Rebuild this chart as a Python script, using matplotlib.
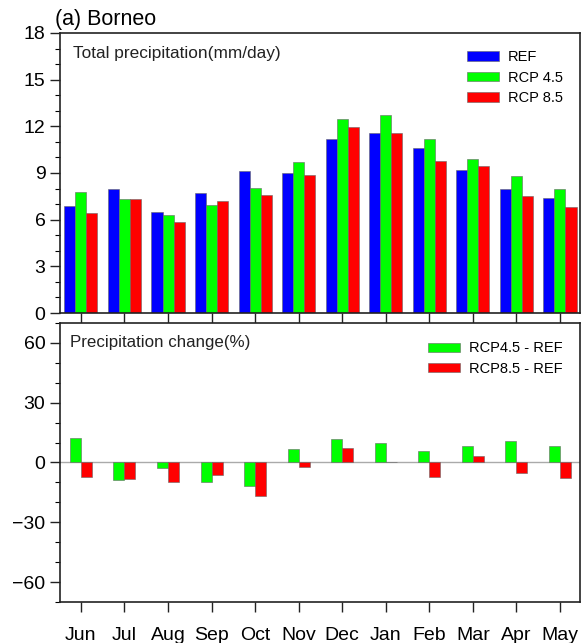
import matplotlib.pyplot as plt
import numpy as np

plt.rcParams['font.family'] = ['Liberation Sans', 'DejaVu Sans']

months = ["Jun", "Jul", "Aug", "Sep", "Oct", "Nov", "Dec", "Jan", "Feb", "Mar", "Apr", "May"]

# total precipitation (mm/day)
ref = [6.9, 8.0, 6.5, 7.7, 9.1, 9.0, 11.2, 11.6, 10.6, 9.2, 7.95, 7.4]
rcp45 = [7.75, 7.3, 6.3, 6.95, 8.05, 9.7, 12.45, 12.7, 11.2, 9.9, 8.8, 7.95]
rcp85 = [6.4, 7.3, 5.85, 7.2, 7.6, 8.85, 11.95, 11.6, 9.8, 9.45, 7.5, 6.8]

# precipitation change relative to REF (%)
chg45 = [12.4, -8.7, -2.7, -9.7, -11.7, 6.9, 11.9, 10.0, 6.0, 8.4, 10.9, 8.1]
chg85 = [-7.5, -8.4, -9.9, -6.2, -16.9, -2.3, 7.2, 0.3, -7.4, 3.4, -5.4, -7.9]

BLUE = "#0000ff"
GREEN = "#00ff00"
RED = "#ff0000"

fig = plt.figure(figsize=(5.81, 6.43), dpi=100)
ax1 = fig.add_axes([0.1033, 0.5132, 0.895, 0.4355])
ax2 = fig.add_axes([0.1033, 0.0638, 0.895, 0.4339])

x = np.arange(len(months))
w = 0.253
edge = dict(edgecolor="#666666", linewidth=0.4)
leg_kw = dict(loc="upper right", frameon=False, fontsize=10.5,
              handlelength=2.2, handleheight=0.6, labelspacing=0.45,
              handletextpad=0.6, borderaxespad=0.0)

# top panel: three scenarios side by side
ax1.bar(x - w, ref, w, color=BLUE, label="REF", **edge)
ax1.bar(x, rcp45, w, color=GREEN, label="RCP 4.5", **edge)
ax1.bar(x + w, rcp85, w, color=RED, label="RCP 8.5", **edge)
ax1.set_ylim(0, 18)
ax1.set_yticks(np.arange(0, 19, 3))
ax1.set_yticks(np.arange(0, 19, 1), minor=True)
ax1.set_xticklabels([])
ax1.text(0.025, 0.925, "Total precipitation(mm/day)", transform=ax1.transAxes,
         fontsize=12.4, color="#222222", va="center", ha="left")
ax1.legend(bbox_to_anchor=(0.978, 0.96), **leg_kw)

# bottom panel: change in percent
ax2.axhline(0, color="#aaaaaa", linewidth=1.0, zorder=0)
ax2.bar(x - w / 2, chg45, w, color=GREEN, label="RCP4.5 - REF", **edge)
ax2.bar(x + w / 2, chg85, w, color=RED, label="RCP8.5 - REF", **edge)
ax2.set_ylim(-70, 70)
ax2.set_yticks([-60, -30, 0, 30, 60])
ax2.set_yticks(np.arange(-70, 71, 10), minor=True)
ax2.set_xticklabels(months)
ax2.text(0.02, 0.93, "Precipitation change(%)", transform=ax2.transAxes,
         fontsize=12.2, color="#222222", va="center", ha="left")
ax2.legend(bbox_to_anchor=(0.978, 0.955), **leg_kw)

for ax in (ax1, ax2):
    ax.set_xlim(-0.48, 11.46)
    ax.set_xticks(x)
    ax.tick_params(axis="both", which="major", direction="out", length=7,
                   width=1.0, labelsize=14, color="#222222")
    ax.tick_params(axis="y", which="minor", direction="out", length=3.5, width=0.8)
    ax.tick_params(axis="x", which="major", pad=11)
    for s in ax.spines.values():
        s.set_linewidth(1.2)
        s.set_color("#222222")

fig.text(0.094, 0.969, "(a) Borneo", fontsize=15.5, ha="left", va="center")

fig.savefig("out.png", dpi=100)
